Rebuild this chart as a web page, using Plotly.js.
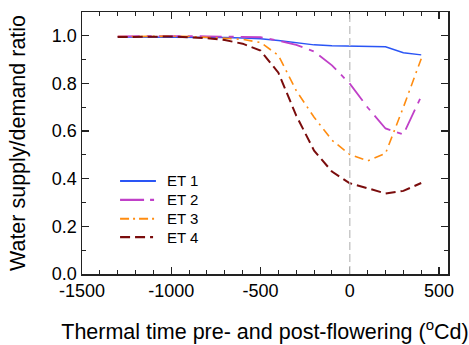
<!DOCTYPE html>
<html><head><meta charset="utf-8">
<script src="https://cdn.plot.ly/plotly-3.0.1.min.js"></script>
<style>html,body{margin:0;padding:0;background:#fff}#chart{width:469px;height:345px}</style>
</head><body><div id="chart"></div>
<script>
var thermalTime = [-1300,-1200,-1100,-1000,-900,-800,-700,-600,-500,-400,-300,-200,-100,0,100,200,300,400];
var et1 = [0.995,0.995,0.995,0.995,0.995,0.994,0.993,0.991,0.988,0.98,0.972,0.962,0.958,0.957,0.958,0.954,0.929,0.920];
var et2 = [0.998,0.999,0.999,0.999,0.999,0.998,0.997,0.996,0.994,0.98,0.962,0.934,0.876,0.799,0.699,0.611,0.586,0.746];
var et3 = [0.997,0.998,0.998,0.998,0.997,0.995,0.99,0.985,0.972,0.918,0.77,0.658,0.562,0.502,0.475,0.506,0.70,0.904];
var et4 = [0.995,0.996,0.997,0.997,0.994,0.99,0.982,0.967,0.938,0.845,0.665,0.518,0.43,0.381,0.36,0.338,0.349,0.382];
var seriesNames = ['ET 1','ET 2','ET 3','ET 4'];
var xTickVals = [-1500,-1000,-500,0,500];
var xTickText = ['-1500','-1000','-500','0','500'];
var yTickVals = [0,0.2,0.4,0.6,0.8,1.0];
var yTickText = ['0.0','0.2','0.4','0.6','0.8','1.0'];

var colors = ['#2a55f5','#c040c8','#ff8c10','#7a0c0c'];
var dashes = ['solid','22px,7px,5px,7px','9px,5px,2px,5px','10px,5px'];
var legendDashes = ['solid','24px,6px,4px,6px','9px,4px,2px,4px','10px,5px,10px,5px,3px'];
var widths = [1.5,1.8,1.6,2];
var ys = [et1,et2,et3,et4];
var traces = ys.map(function(y,i){
  return {x: thermalTime, y: y, type:'scatter', mode:'lines', name: seriesNames[i],
    line:{color:colors[i], dash:dashes[i], width:widths[i]}};
});
var FONT = 'Liberation Sans, Arial, sans-serif';

// manual legend (paper coords of the plot area)
var legX0 = 0.104, legX1 = 0.202, legTextX = 0.226;
var legY = [0.355, 0.283, 0.211, 0.141];
var shapes = [{type:'line', xref:'x', yref:'paper', x0:0, x1:0, y0:0, y1:1,
    line:{color:'#c0c0c0', width:1.3, dash:'8px,4px'}}];
var annotations = [];
seriesNames.forEach(function(n,i){
  shapes.push({type:'line', xref:'paper', yref:'paper', x0:legX0, x1:legX1, y0:legY[i], y1:legY[i],
    line:{color:colors[i], width:widths[i]+0.3, dash:legendDashes[i]}});
  annotations.push({xref:'paper', yref:'paper', x:legTextX, y:legY[i], xanchor:'left', yanchor:'middle',
    text:n, showarrow:false, font:{family:FONT, size:15, color:'#000'}});
});

var axisCommon = {showgrid:false, zeroline:false, showline:true, linecolor:'#222', linewidth:1.5,
  mirror:'allticks', ticks:'inside', ticklen:7, tickwidth:1.2, tickcolor:'#222',
  tickfont:{family:FONT, size:18, color:'#000'}};
var layout = {
  width:469, height:345,
  margin:{l:82, r:21, t:12, b:71},
  paper_bgcolor:'#fff', plot_bgcolor:'#fff',
  showlegend:false,
  xaxis: Object.assign({}, axisCommon, {range:[-1500,550], tickvals:xTickVals, ticktext:xTickText,
    minor:{dtick:100, tick0:0, ticks:'inside', ticklen:4, tickcolor:'#222', tickwidth:1},
    title:{text:'Thermal time pre- and post-flowering (<sup>o</sup>Cd)', standoff:24,
      font:{family:FONT, size:21.5, color:'#000'}}}),
  yaxis: Object.assign({}, axisCommon, {range:[0,1.1], tickvals:yTickVals, ticktext:yTickText,
    minor:{dtick:0.1, tick0:0, ticks:'inside', ticklen:4, tickcolor:'#222', tickwidth:1},
    title:{text:'Water supply/demand ratio', standoff:20,
      font:{family:FONT, size:21.5, color:'#000'}}}),
  shapes: shapes,
  annotations: annotations
};
Plotly.newPlot('chart', traces, layout, {displayModeBar:false, staticPlot:true});
</script></body></html>
